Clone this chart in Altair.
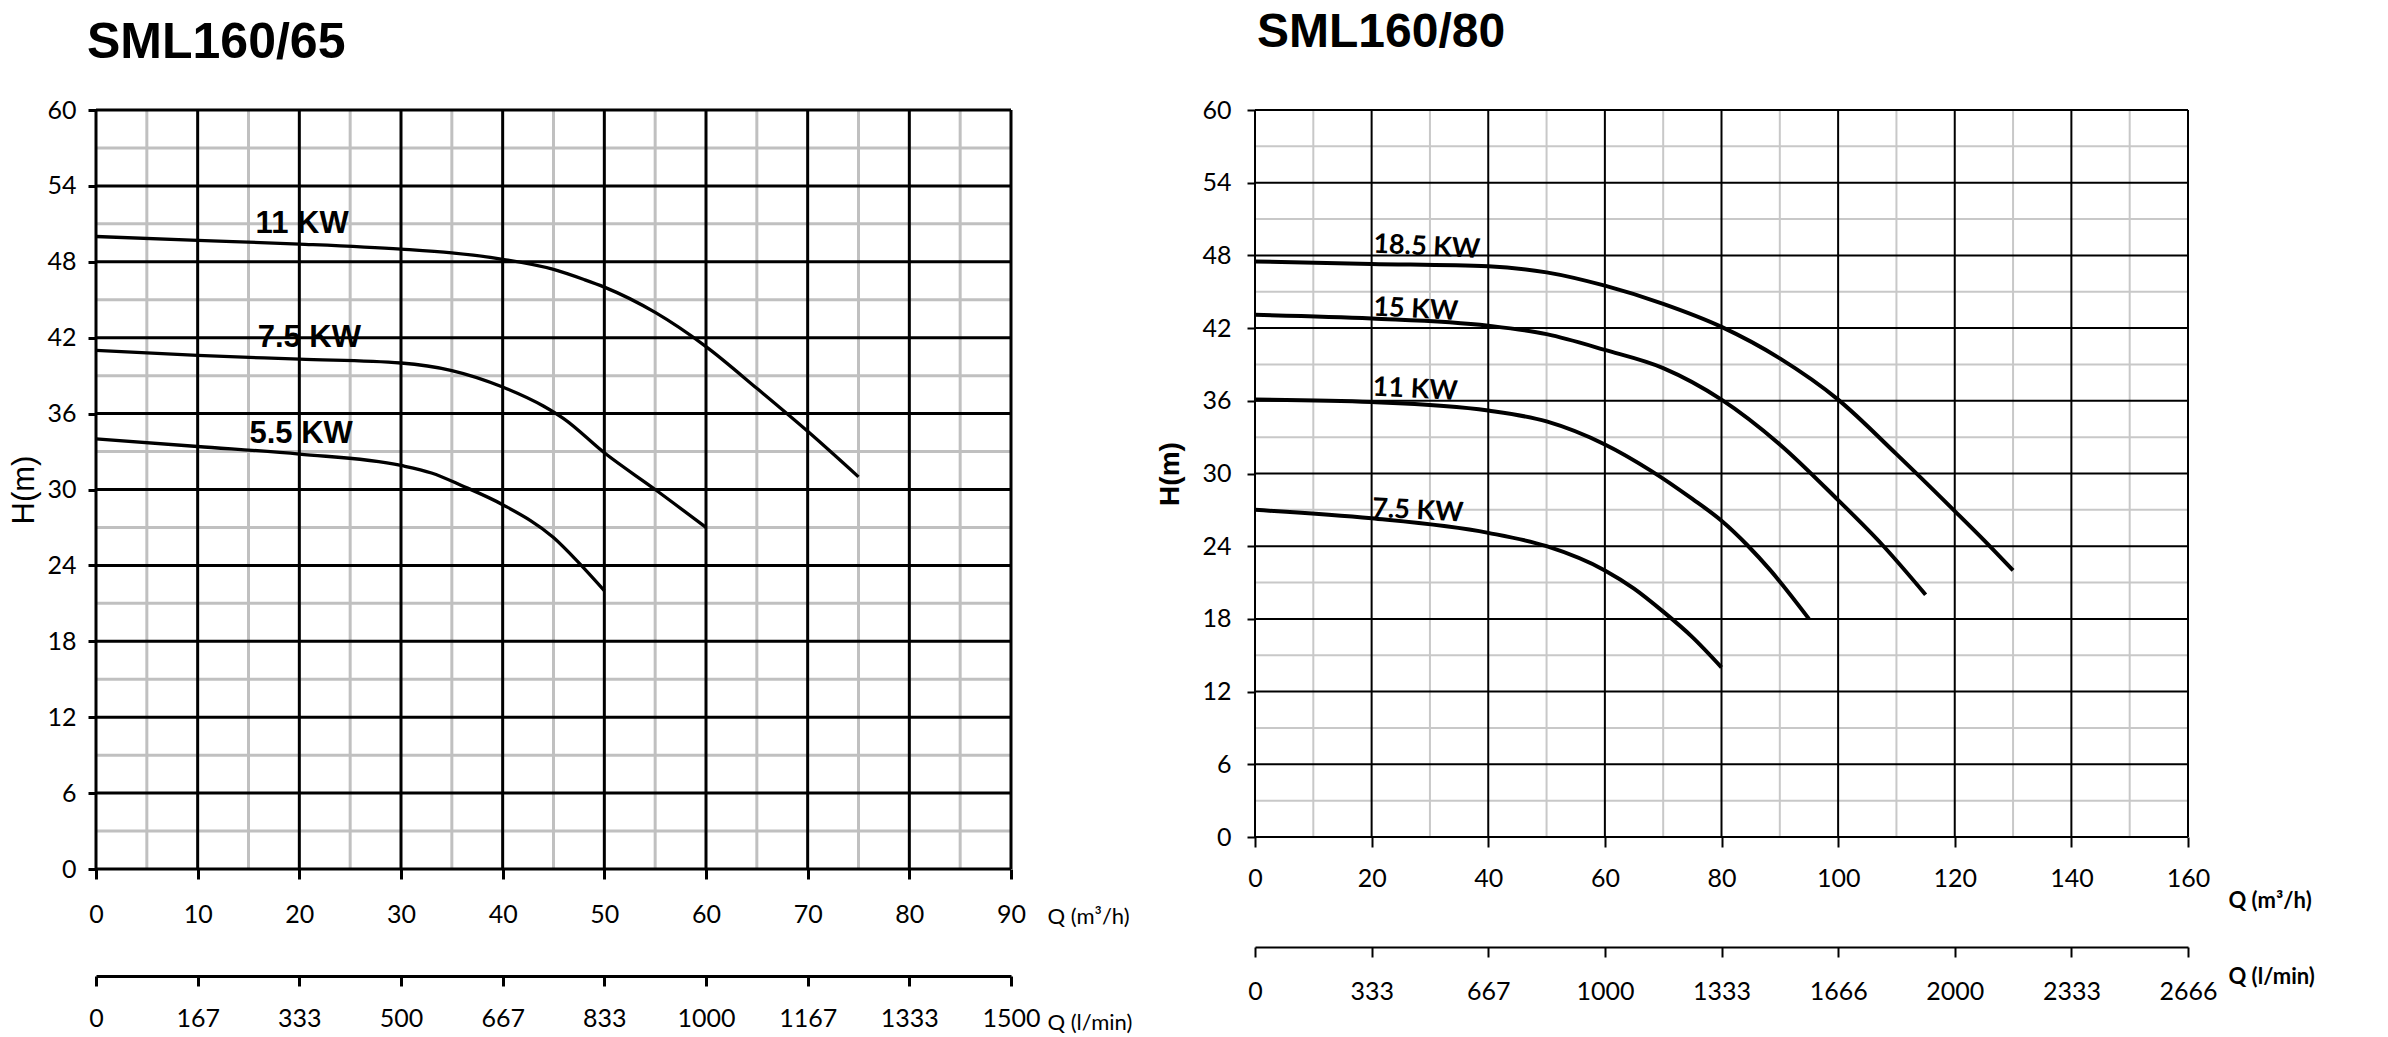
import altair as alt
import pandas as pd

# ---------------- data ----------------
# SML160/65  (Q in m3/h, H in m)
L_q_11 = [0, 10, 20, 30, 35, 40, 45, 48, 50, 55, 60, 65, 70, 75]
L_h_11 = [50, 49.7, 49.4, 49.0, 48.7, 48.2, 47.4, 46.6, 46.0, 44.0, 41.3, 38.0, 34.6, 31.0]
L_q_75 = [0, 10, 20, 30, 35, 40, 44, 46, 50, 55, 60]
L_h_75 = [41, 40.6, 40.3, 40.0, 39.4, 38.1, 36.6, 35.6, 32.9, 30.0, 27.0]
L_q_55 = [0, 10, 20, 30, 33, 36, 40, 45, 47.5, 50]
L_h_55 = [34, 33.4, 32.8, 31.9, 31.3, 30.3, 28.8, 26.2, 24.2, 22]
L_labels = ["11 KW", "7.5 KW", "5.5 KW"]
L_label_q = [15.7, 15.9, 15.1]
L_label_h = [51.0, 42.0, 34.4]

# SML160/80
R_q_185 = [0, 20, 40, 50, 60, 70, 80, 90, 100, 110, 120, 125, 130]
R_h_185 = [47.5, 47.3, 47.1, 46.6, 45.5, 44.0, 42.1, 39.5, 36.1, 31.6, 26.9, 24.5, 22]
R_q_15 = [0, 20, 40, 50, 60, 70, 80, 90, 100, 107.6, 115]
R_h_15 = [43.1, 42.8, 42.2, 41.5, 40.2, 38.7, 36.1, 32.4, 27.8, 24.1, 20]
R_q_11 = [0, 20, 40, 50, 60, 68, 75, 80, 84.4, 88.4, 95]
R_h_11 = [36.1, 35.9, 35.2, 34.3, 32.4, 30.2, 27.9, 26.1, 24.1, 22.0, 18]
R_q_75 = [0, 20, 40, 50, 60, 65, 70, 75, 80]
R_h_75 = [27, 26.3, 25.1, 24.0, 22.0, 20.5, 18.6, 16.5, 14]
R_labels = ["18.5 KW", "15 KW", "11 KW", "7.5 KW"]
R_label_q = [20.3, 20.3, 20.2, 20.1]
R_label_h = [48.9, 43.7, 37.1, 27.1]

# axis ticks
Y_major = [0, 6, 12, 18, 24, 30, 36, 42, 48, 54, 60]
Y_minor = [3, 9, 15, 21, 27, 33, 39, 45, 51, 57]
L_x_major = [0, 10, 20, 30, 40, 50, 60, 70, 80, 90]
L_x_minor = [5, 15, 25, 35, 45, 55, 65, 75, 85]
L_lmin = ["0", "167", "333", "500", "667", "833", "1000", "1167", "1333", "1500"]
R_x_major = [0, 20, 40, 60, 80, 100, 120, 140, 160]
R_x_minor = [10, 30, 50, 70, 90, 110, 130, 150]
R_lmin = ["0", "333", "667", "1000", "1333", "1666", "2000", "2333", "2666"]

TICKF = "Lato, sans-serif"
ARIAL = "Liberation Sans, Arial, sans-serif"


def curves_df(qs, hs, names):
    rows = []
    for q, h, n in zip(qs, hs, names):
        for a, b in zip(q, h):
            rows.append({"q": a, "h": b, "series": n})
    return pd.DataFrame(rows)


def label_lookup(values, labels):
    # l/min tick labels placed at the m3/h tick positions
    expr = "''"
    for v, t in reversed(list(zip(values, labels))):
        expr = f"datum.value == {v} ? '{t}' : ({expr})"
    return expr


def panel(title, curves, labels, xmaj, xmin, lmin, xdom, p):
    xs = alt.Scale(domain=xdom, nice=False, zero=False)
    ys = alt.Scale(domain=[0, 60], nice=False, zero=False)
    tw = "bold" if p["bold"] else "normal"

    x_axis = alt.Axis(
        orient="bottom", values=xmaj, grid=False, domain=False, ticks=True,
        tickSize=10, tickWidth=p["tick_w"], tickColor="black", format="d",
        labelFont=TICKF, labelFontSize=25, labelColor="black", labelPadding=p["xlab_pad"],
        labelFlush=False, labelOverlap=False,
        title="Q (m³/h)", titleFont=TICKF, titleFontSize=22, titleFontWeight=tw,
        titleColor="black", titleX=p["qtitle_x"], titleY=p["qtitle_y"], titleAlign="left",
        titleBaseline="middle", titleAngle=0)
    y_axis = alt.Axis(
        orient="left", values=Y_major, grid=False, domain=False, ticks=True,
        tickSize=8, tickWidth=p["tick_w"], tickColor="black", format="d",
        labelFont=TICKF, labelFontSize=25, labelColor="black", labelPadding=p["ylab_pad"],
        labelFlush=False, labelOverlap=False,
        title="H(m)", titleFont=ARIAL, titleFontSize=p["htitle_size"], titleFontWeight=tw,
        titleColor="black", titlePadding=p["htitle_pad"])
    l_axis = alt.Axis(
        orient="bottom", offset=p["lmin_offset"], values=xmaj, grid=False,
        labelExpr=label_lookup(xmaj, lmin),
        domain=True, domainColor="black", domainWidth=p["tick_w"],
        ticks=True, tickSize=10, tickWidth=p["tick_w"], tickColor="black",
        labelFont=TICKF, labelFontSize=25, labelColor="black", labelPadding=p["llab_pad"],
        labelFlush=False, labelOverlap=False,
        title="Q (l/min)", titleFont=TICKF, titleFontSize=22, titleFontWeight=tw,
        titleColor="black", titleX=p["qtitle_x"], titleY=p["ltitle_y"], titleAlign="left",
        titleBaseline="middle", titleAngle=0)

    gw = p["grid_w"]
    minor_x = alt.Chart(pd.DataFrame({"v": xmin})).mark_rule(
        color=p["minor_color"], strokeWidth=gw).encode(x=alt.X("v:Q", scale=xs, axis=None))
    minor_y = alt.Chart(pd.DataFrame({"v": Y_minor})).mark_rule(
        color=p["minor_color"], strokeWidth=gw).encode(y=alt.Y("v:Q", scale=ys, axis=None))
    major_x = alt.Chart(pd.DataFrame({"v": xmaj})).mark_rule(
        color="black", strokeWidth=gw).encode(x=alt.X("v:Q", scale=xs, axis=None))
    major_y = alt.Chart(pd.DataFrame({"v": Y_major})).mark_rule(
        color="black", strokeWidth=gw).encode(y=alt.Y("v:Q", scale=ys, axis=None))

    lines = alt.Chart(curves).mark_line(
        color="black", strokeWidth=p["curve_w"], interpolate="monotone").encode(
        x=alt.X("q:Q", scale=xs, axis=x_axis),
        y=alt.Y("h:Q", scale=ys, axis=y_axis),
        detail="series:N")

    text = alt.Chart(labels).mark_text(
        align="left", baseline="middle", font=p["label_font"], fontSize=p["label_size"],
        fontWeight="bold", color="black", angle=p["label_angle"]).encode(
        x=alt.X("q:Q", scale=xs, axis=l_axis),
        y=alt.Y("h:Q", scale=ys, axis=None),
        text="t:N")

    return alt.layer(minor_x, minor_y, major_x, major_y, lines, text).resolve_axis(
        x="independent", y="independent").properties(
        width=p["width"], height=p["height"],
        title=alt.TitleParams(text=title, font=ARIAL, fontSize=p["title_size"],
                              fontWeight="bold", color="black", anchor="start",
                              frame="group", dx=p["title_dx"], offset=p["title_offset"]))


left_curves = curves_df([L_q_11, L_q_75, L_q_55], [L_h_11, L_h_75, L_h_55], L_labels)
left_labels = pd.DataFrame({"q": L_label_q, "h": L_label_h, "t": L_labels})
right_curves = curves_df([R_q_185, R_q_15, R_q_11, R_q_75],
                         [R_h_185, R_h_15, R_h_11, R_h_75], R_labels)
right_labels = pd.DataFrame({"q": R_label_q, "h": R_label_h, "t": R_labels})

left = panel("SML160/65", left_curves, left_labels, L_x_major, L_x_minor, L_lmin, [0, 90], dict(
    title_size=50, title_dx=-9, title_offset=30, width=915, height=759,
    grid_w=3, minor_color="#c0c0c0", curve_w=3.3, tick_w=3,
    lmin_offset=107, qtitle_x=951, qtitle_y=47, ltitle_y=46, bold=False,
    label_font=ARIAL, label_size=31, label_angle=0, htitle_size=31, htitle_pad=6,
    xlab_pad=23, llab_pad=20, ylab_pad=12))
right = panel("SML160/80", right_curves, right_labels, R_x_major, R_x_minor, R_lmin, [0, 160], dict(
    title_size=48, title_dx=2, title_offset=41, width=933, height=727,
    grid_w=2, minor_color="#c8c8c8", curve_w=4, tick_w=2,
    lmin_offset=110, qtitle_x=973, qtitle_y=63, ltitle_y=29, bold=True,
    label_font=TICKF, label_size=27, label_angle=3, htitle_size=28, htitle_pad=17,
    xlab_pad=19, llab_pad=22, ylab_pad=16))

chart = alt.hconcat(left, right, spacing=23).properties(
    padding={"left": 0, "top": 0, "right": 5, "bottom": 0}
).configure_view(stroke=None).configure(background="white")

chart.save("out.html", embed_options={"renderer": "svg", "actions": False})
